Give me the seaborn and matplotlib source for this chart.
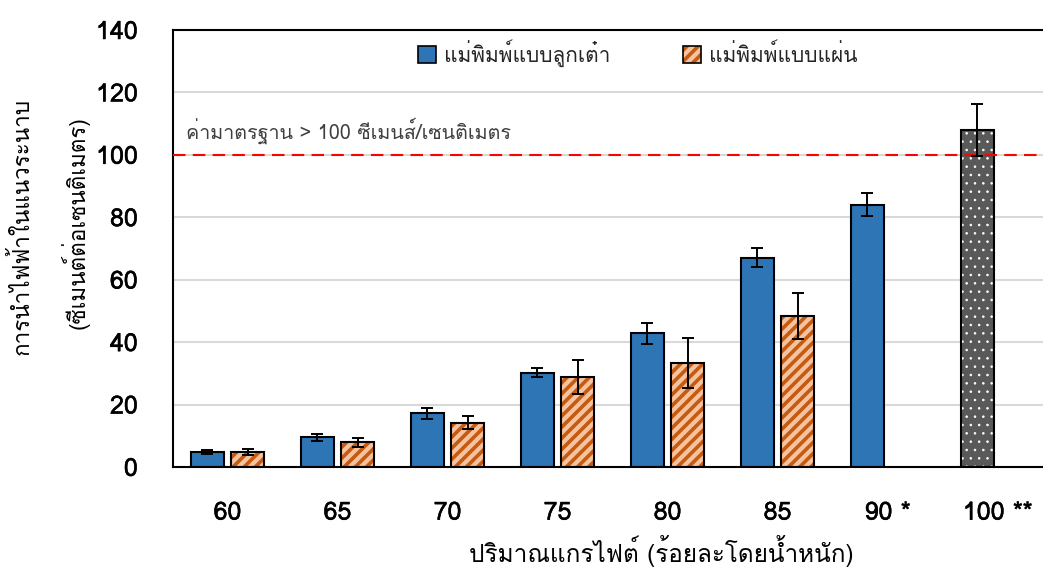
import numpy as np
import pandas as pd
import matplotlib
matplotlib.use("Agg")
import matplotlib.pyplot as plt
import matplotlib.patheffects as pe
import seaborn as sns
from matplotlib import font_manager
from matplotlib.ft2font import FT2Font
from matplotlib.patches import Rectangle, Patch
from matplotlib.legend_handler import HandlerTuple

# ---- data -------------------------------------------------------------
categories = ["60", "65", "70", "75", "80", "85", "90 *", "100 **"]
series_names = ["แม่พิมพ์แบบลูกเต๋า", "แม่พิมพ์แบบแผ่น"]

cube_mean = [4.8, 9.5, 17.2, 30.2, 42.8, 67.1, 84.0, 108.0]
cube_err = [0.5, 1.1, 1.8, 1.4, 3.4, 3.1, 3.7, 8.4]
sheet_mean = [4.8, 7.9, 14.2, 28.8, 33.3, 48.5, np.nan, np.nan]
sheet_err = [1.0, 1.5, 2.1, 5.5, 8.0, 7.4, np.nan, np.nan]

y_ticks = [0, 20, 40, 60, 80, 100, 120, 140]
standard_value = 100
standard_text = "ค่ามาตรฐาน > 100 ซีเมนส์/เซนติเมตร"
x_title = "ปริมาณแกรไฟต์ (ร้อยละโดยน้ำหนัก)"
y_title = ["การนำไฟฟ้าในแนวระนาบ", "(ซีเมนต์ต่อเซนติเมตร)"]

# ---- colours ----------------------------------------------------------
BLUE = "#2E75B6"
PEACH = "#F6C3A0"
ORANGE = "#C55A11"
DARK = "#595959"


def find_thai_family():
    """Return the name of an installed family that has Thai glyphs."""
    checked = set()
    for entry in font_manager.fontManager.ttflist:
        if entry.name in checked:
            continue
        try:
            cmap = FT2Font(entry.fname).get_charmap()
        except Exception:
            continue
        if 0x0E01 in cmap and 0x0E32 in cmap and 0x0E48 in cmap:
            return entry.name
        checked.add(entry.name)
    return None


sns.set_theme(style="white")
thai = find_thai_family()
families = ([thai] if thai else []) + ["DejaVu Sans"]
plt.rcParams["font.family"] = families
plt.rcParams["hatch.linewidth"] = 2.6

df = pd.DataFrame({
    "category": categories * 2,
    "series": [series_names[0]] * len(categories) + [series_names[1]] * len(categories),
    "value": cube_mean + sheet_mean,
}).dropna()

fig = plt.figure(figsize=(10.43, 5.67), dpi=100)
ax = fig.add_axes([172.5 / 1043, 100 / 567, 880 / 1043, 437 / 567])

sns.barplot(
    data=df, x="category", y="value", hue="series",
    order=categories, hue_order=series_names,
    palette=[BLUE, PEACH], saturation=1,
    width=0.728, gap=0.16, errorbar=None,
    edgecolor="black", linewidth=1.5, legend=False, ax=ax, zorder=2,
)


def restyle_hatched(bar, face, hatch, hatch_color, hatch_lw=None):
    """Fill a bar with a coloured hatch and keep a black outline on top."""
    bar.set_facecolor(face)
    bar.set_edgecolor(hatch_color)
    bar.set_hatch(hatch)
    bar.set_linewidth(0)
    if hatch_lw is not None and hasattr(bar, "set_hatch_linewidth"):
        bar.set_hatch_linewidth(hatch_lw)
    ax.add_patch(Rectangle(bar.get_xy(), bar.get_width(), bar.get_height(),
                           fill=False, edgecolor="black", linewidth=1.5,
                           zorder=bar.get_zorder() + 0.1))


err_x, err_y, err_e = [], [], []
for k, (container, errs) in enumerate(zip(ax.containers, [cube_err, sheet_err])):
    for bar in container:
        xc = bar.get_x() + bar.get_width() / 2
        i = int(round(xc))
        h = bar.get_height()
        if k == 1:
            restyle_hatched(bar, PEACH, "///", ORANGE)
        elif categories[i].startswith("100"):
            restyle_hatched(bar, DARK, "..", "white", hatch_lw=0.6)
        err_x.append(xc)
        err_y.append(h)
        err_e.append(errs[i])

# standard threshold line
ax.axhline(standard_value, color="red", linewidth=1.5, dashes=(6, 3.5), zorder=3)
ax.text(-0.38, 107.6, standard_text, fontsize=14.2, color="#404040",
        va="center", ha="left", zorder=4)

ax.errorbar(err_x, err_y, yerr=err_e, fmt="none", ecolor="black",
            elinewidth=1.4, capsize=4.2, capthick=1.4, zorder=5)

ax.set_xlim(-0.5, len(categories) - 0.5)
ax.set_ylim(0, 140)
ax.set_yticks(y_ticks)
ax.yaxis.grid(True, color="#D9D9D9", linewidth=1.5)
ax.xaxis.grid(False)
ax.set_axisbelow(True)
ax.set_xlabel("")
ax.set_ylabel("")

for side in ["left", "bottom", "top", "right"]:
    ax.spines[side].set_visible(True)
    ax.spines[side].set_color("black")
    ax.spines[side].set_linewidth(1.5)

ax.tick_params(axis="x", length=0, pad=25, labelsize=18, labelcolor="black")
ax.tick_params(axis="y", length=0, pad=25, labelsize=18, labelcolor="black")
heavier = [pe.withStroke(linewidth=0.35, foreground="black")]
for lab in ax.get_xticklabels() + ax.get_yticklabels():
    lab.set_path_effects(heavier)

# legend
h_cube = Patch(facecolor=BLUE, edgecolor="black", linewidth=1.2)
h_fill = Patch(facecolor=PEACH, edgecolor=ORANGE, hatch="///", linewidth=0)
h_edge = Patch(fill=False, edgecolor="black", linewidth=1.2)
ax.legend([h_cube, (h_fill, h_edge)], series_names,
          handler_map={tuple: HandlerTuple(ndivide=1)},
          loc="center", bbox_to_anchor=(638 / 1043, 1 - 53 / 567),
          bbox_transform=fig.transFigure, ncol=2, frameon=False,
          fontsize=15, handlelength=0.85, handleheight=0.85,
          handletextpad=0.4, columnspacing=3.5)

fig.text(22 / 1043, 1 - 226 / 567, y_title[0], rotation=90, ha="center",
         va="center", fontsize=16.2, color="black")
fig.text(75 / 1043, 1 - 223 / 567, y_title[1], rotation=90, ha="center",
         va="center", fontsize=16.2, color="black")
fig.text(661 / 1043, 1 - 551 / 567, x_title, ha="center", va="center",
         fontsize=17.5, color="black")

fig.savefig("out.png", dpi=100)
